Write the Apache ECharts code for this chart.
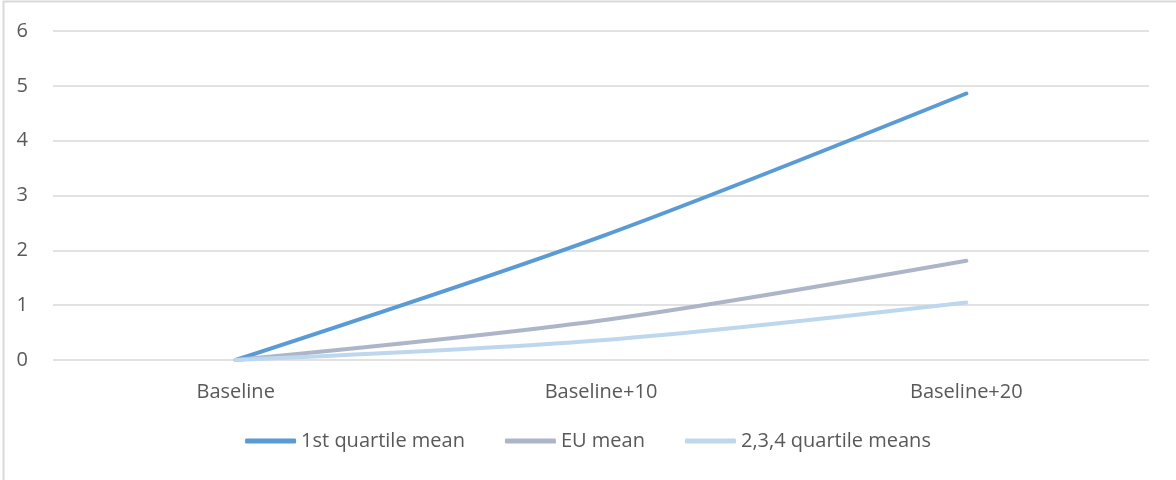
<!DOCTYPE html>
<html>
<head>
<meta charset="utf-8">
<script src="https://cdn.jsdelivr.net/npm/echarts@6/dist/echarts.min.js"></script>
<style>
  html, body { margin: 0; padding: 0; background: #fff; }
  #chart { width: 1176px; height: 480px; }
</style>
</head>
<body>
<div id="chart"></div>
<script>
  var categories = ['Baseline', 'Baseline+10', 'Baseline+20'];
  var firstQuartile = [0, 2.25, 4.86];
  var euMean = [0, 0.72, 1.81];
  var otherQuartiles = [0, 0.36, 1.05];
  var yTicks = [0, 1, 2, 3, 4, 5, 6];

  var textStyle = { fontFamily: 'Open Sans', fontSize: 20, color: '#595959' };

  function lineSerie(name, data, color) {
    return {
      name: name,
      type: 'line',
      data: data,
      smooth: 0.3,
      showSymbol: false,
      symbol: 'none',
      itemStyle: { color: color },
      lineStyle: { color: color, width: 4, cap: 'round' }
    };
  }

  var chart = echarts.init(document.getElementById('chart'));
  chart.setOption({
    animation: false,
    graphic: [{
      type: 'rect',
      shape: { x: 3.5, y: 1.5, width: 1200, height: 500 },
      style: { fill: 'none', stroke: '#d9d9d9', lineWidth: 2 },
      silent: true
    }],
    grid: { left: 53, right: 27, top: 31, bottom: 120 },
    legend: {
      bottom: 24,
      left: 'center',
      icon: 'roundRect',
      itemWidth: 51,
      itemHeight: 5,
      itemGap: 40,
      textStyle: textStyle
    },
    xAxis: {
      type: 'category',
      data: categories,
      boundaryGap: true,
      axisLine: { show: false },
      axisTick: { show: false },
      axisLabel: Object.assign({ margin: 22 }, textStyle)
    },
    yAxis: {
      type: 'value',
      min: yTicks[0],
      max: yTicks[yTicks.length - 1],
      interval: 1,
      axisLine: { show: false },
      axisTick: { show: false },
      axisLabel: Object.assign({ margin: 25 }, textStyle),
      splitLine: { lineStyle: { color: '#d9d9d9', width: 1.5 } }
    },
    series: [
      lineSerie('1st quartile mean', firstQuartile, '#5b9bd5'),
      lineSerie('EU mean', euMean, '#adb6c9'),
      lineSerie('2,3,4 quartile means', otherQuartiles, '#bdd7ee')
    ]
  });
</script>
</body>
</html>
